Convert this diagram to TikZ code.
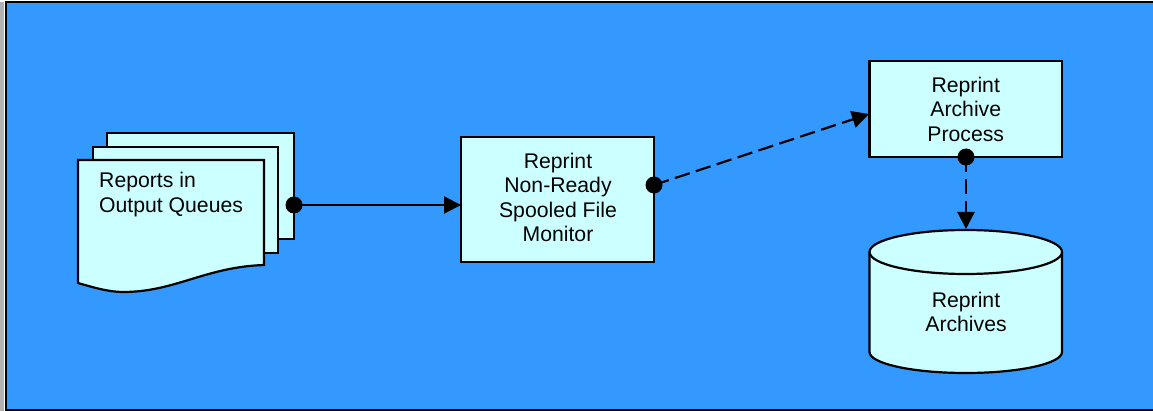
\documentclass[tikz,border=0pt]{standalone}
\usepackage{fontspec}
\setmainfont{Liberation Sans}
\usetikzlibrary{arrows.meta}
\definecolor{bgblue}{RGB}{51,153,255}
\definecolor{paleCyan}{RGB}{204,255,255}
\tikzset{
  x=1pt,y=-1pt,
  shapeline/.style={draw=black,line width=2.2pt,fill=paleCyan,line join=miter},
  boxnode/.style={shapeline,inner sep=0pt,outer sep=0pt,align=center,anchor=north west,font=\fontsize{21.2}{24.5}\selectfont},
  label/.style={inner sep=0pt,align=center,font=\fontsize{21.2}{24.5}\selectfont},
  dot/.style={circle,fill=black,draw=none,minimum size=17pt,inner sep=0pt,outer sep=0pt},
  link/.style={draw=black,line width=2.2pt,-{Triangle[length=17pt,width=17pt]}},
  dashlink/.style={link,dash pattern=on 15.5pt off 6.5pt},
}
\begin{document}
\begin{tikzpicture}
\useasboundingbox (0,0) rectangle (1153,411);
\fill[white] (0,0) rectangle (1153,411);
\fill[black!30] (0,2) rectangle (4,411);
\draw[fill=bgblue,draw=black,line width=2pt] (5.5,2.5) rectangle (1160,409.5);
% report pages
\draw[shapeline] (107,133) rectangle (294,239);
\draw[shapeline] (93,147) rectangle (278,253);
\draw[shapeline] (78,160) -- (264,160) -- (264,265)
  .. controls (205,267) and (175,292) .. (123,292)
  .. controls (108,292) and (92,287) .. (78,283) -- cycle;
\node[label,anchor=north west,align=left] (reports) at (99,172) {Reports in\\Output Queues};
% boxes
\node[boxnode,minimum width=193pt,minimum height=125pt] (monitor) at (461,137) {};
\node[label] (monitortext) at (558,197.5) {Reprint\\Non-Ready\\Spooled File\\Monitor};
\node[boxnode,minimum width=192.5pt,minimum height=96pt] (process) at (869.5,61) {Reprint\\Archive\\Process};
% cylinder
\draw[shapeline] (869.5,252) -- (869.5,352)
  arc[start angle=180,end angle=360,x radius=96.25pt,y radius=21pt]
  -- (1062,252);
\draw[shapeline] (965.75,252) ellipse[x radius=96.25pt,y radius=22pt];
\node[label] (archives) at (966,312) {Reprint\\Archives};
\coordinate (cyltop) at (966,229);
\coordinate (processin) at (869,114);
% dots
\node[dot] (d1) at (294,205) {};
\node[dot] (d2) at (654,185) {};
\node[dot] (d3) at (966,157) {};
% connectors
\draw[link] (d1.center) -- (monitor.west |- d1.center);
\draw[dashlink] (d2.center) -- (processin);
\draw[dashlink] (d3.center) -- (cyltop);
\end{tikzpicture}
\end{document}
